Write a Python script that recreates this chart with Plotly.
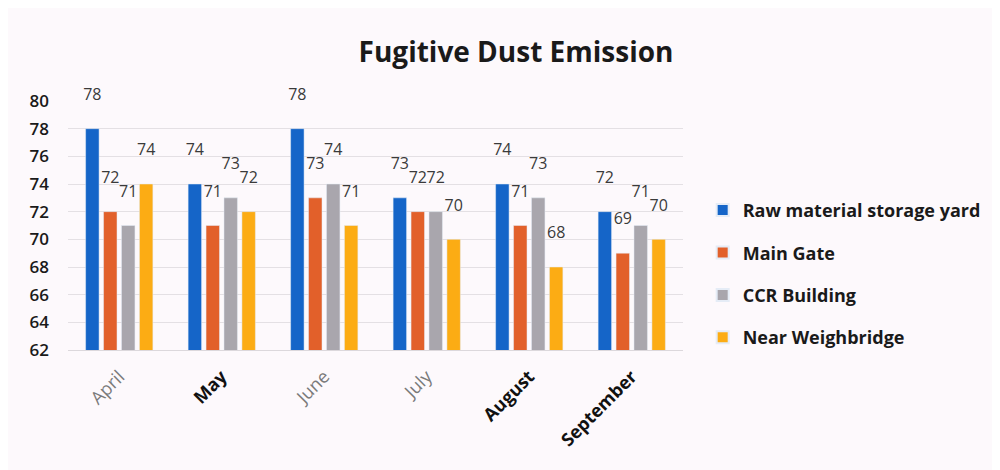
import plotly.graph_objects as go

months = ["April", "May", "June", "July", "August", "September"]
bold_months = ["May", "August", "September"]
series_names = ["Raw material storage yard", "Main Gate", "CCR Building", "Near Weighbridge"]
raw_yard = [78, 74, 78, 73, 74, 72]
main_gate = [72, 71, 73, 72, 71, 69]
ccr_building = [71, 73, 74, 72, 73, 71]
near_weighbridge = [74, 72, 71, 70, 68, 70]
y_ticks = [62, 64, 66, 68, 70, 72, 74, 76, 78, 80]

colors = ["#1565c8", "#e2602a", "#a9a6ad", "#fcac14"]
series = [raw_yard, main_gate, ccr_building, near_weighbridge]
FONT = "Open Sans"

fig = go.Figure()
for name, vals, col in zip(series_names, series, colors):
    fig.add_trace(go.Bar(
        x=months, y=vals, name=name, marker_color=col, legendgroup=name,
        text=[f"{v}<br> " for v in vals], textposition="outside",
        textfont=dict(family=FONT, size=16, color="#3a3a3a"),
        constraintext="none", cliponaxis=False,
    ))

ticktext = [f"<b><span style='color:#111111'>{m}</span></b>" if m in bold_months else m
            for m in months]

fig.update_layout(
    width=1000, height=470,
    paper_bgcolor="#fdf9fc", plot_bgcolor="#fdf9fc",
    margin=dict(l=60, r=325, t=93, b=128),
    barmode="group", bargap=0.3, bargroupgap=0.25,
    title=dict(text="<b>Fugitive Dust Emission</b>", x=0.508, xanchor="center",
               y=0.905, yanchor="middle",
               font=dict(family=FONT, size=28, color="#1a1a1a")),
    legend=dict(x=1.032, y=0.635, xanchor="left", yanchor="top",
                font=dict(family=FONT, size=18, color="#1a1a1a", weight="bold"),
                tracegroupgap=16, traceorder="grouped", itemsizing="constant",
                itemwidth=30, bgcolor="rgba(0,0,0,0)"),
    showlegend=True,
)
fig.update_xaxes(tickvals=months, ticktext=ticktext, tickangle=-45,
                 tickfont=dict(family=FONT, size=18, color="#7a7a7a"),
                 ticklabelstandoff=8,
                 showline=True, linecolor="#dcd8dc", linewidth=1, ticks="")
fig.update_yaxes(range=[62, 80], tickvals=y_ticks, showgrid=True,
                 gridcolor="#e4e0e4", zeroline=False,
                 tickfont=dict(family=FONT, size=17, color="#1a1a1a", weight=600),
                 ticks="", ticklabelstandoff=18)

fig.write_html("out.html")
